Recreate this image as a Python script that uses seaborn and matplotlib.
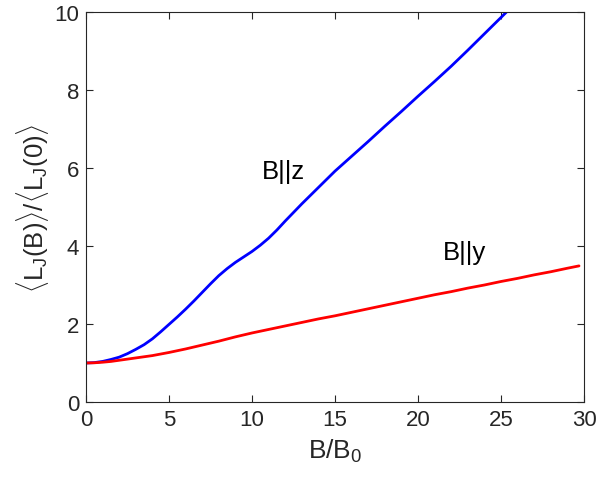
import matplotlib
matplotlib.use("Agg")
import matplotlib.pyplot as plt
import seaborn as sns
import pandas as pd

# B/B0 sample positions and read-off values
b_z = [0, 0.5, 1, 1.5, 2, 2.5, 3, 3.5, 4, 4.5, 5, 5.5, 6, 6.5, 7, 7.5, 8, 8.5,
       9, 9.5, 10, 10.5, 11, 11.5, 12, 12.5, 13, 13.5, 14, 15, 16, 17, 18, 19,
       20, 21, 22, 23, 24, 25, 26]
l_z = [1.00, 1.01, 1.04, 1.09, 1.15, 1.24, 1.35, 1.47, 1.62, 1.80, 1.99, 2.18,
       2.38, 2.59, 2.81, 3.03, 3.24, 3.42, 3.58, 3.72, 3.86, 4.02, 4.20, 4.41,
       4.64, 4.86, 5.08, 5.29, 5.50, 5.92, 6.30, 6.68, 7.07, 7.45, 7.84, 8.22,
       8.61, 9.02, 9.44, 9.86, 10.28]

b_y = [0, 0.5, 1, 1.5, 2, 2.5, 3, 3.5, 4, 4.5, 5, 6, 7, 8, 9, 10, 11, 12, 13,
       14, 15, 16, 17, 18, 19, 20, 21, 22, 23, 24, 25, 26, 27, 28, 29, 29.7]
l_y = [1.00, 1.005, 1.02, 1.04, 1.07, 1.10, 1.13, 1.16, 1.19, 1.23, 1.27, 1.36,
       1.46, 1.56, 1.67, 1.77, 1.86, 1.95, 2.04, 2.13, 2.21, 2.30, 2.39, 2.48,
       2.57, 2.66, 2.75, 2.83, 2.92, 3.00, 3.09, 3.17, 3.26, 3.34, 3.43, 3.49]

x_ticks = [0, 5, 10, 15, 20, 25, 30]
y_ticks = [0, 2, 4, 6, 8, 10]
labels = ["B||z", "B||y"]

sns.set_theme(style="ticks")
plt.rcParams['font.family'] = ['Liberation Sans', 'DejaVu Sans']
plt.rcParams['mathtext.fontset'] = 'custom'
plt.rcParams['mathtext.rm'] = 'Liberation Sans'
plt.rcParams['mathtext.it'] = 'Liberation Sans'
plt.rcParams['mathtext.sf'] = 'Liberation Sans'

df_z = pd.DataFrame({"B": b_z, "L": l_z})
df_y = pd.DataFrame({"B": b_y, "L": l_y})

fig = plt.figure(figsize=(5.96, 4.85), dpi=100)
ax = fig.add_axes([86/596, 82/485, (584-86)/596, (403-13)/485])

sns.lineplot(data=df_z, x="B", y="L", ax=ax, color=(0, 0, 1), linewidth=2.0,
             sort=False, estimator=None)
sns.lineplot(data=df_y, x="B", y="L", ax=ax, color=(1, 0, 0), linewidth=2.0,
             sort=False, estimator=None)

ax.set_xlim(0, 30)
ax.set_ylim(0, 10)
ax.set_xticks(x_ticks)
ax.set_yticks(y_ticks)
ax.set_xticklabels([str(t) for t in x_ticks])
ax.set_yticklabels([str(t) for t in y_ticks])

edge = '#262626'
for s in ax.spines.values():
    s.set_visible(True)
    s.set_color(edge)
    s.set_linewidth(0.8)
ax.tick_params(direction='in', length=5, width=0.8, color=edge,
               labelsize=16, labelcolor=edge, top=True, right=True, pad=5)

ax.set_xlabel(r"B/B$_{\rm 0}$", fontsize=19, color=edge, labelpad=5)
ax.set_ylabel(r"$\langle$L$_{\rm J}$(B)$\rangle$/$\langle$L$_{\rm J}$(0)$\rangle$",
              fontsize=18.5, color=edge, labelpad=2)

ax.text(11.9, 5.92, labels[0], fontsize=18.5, ha='center', va='center', color='black')
ax.text(22.8, 3.85, labels[1], fontsize=18.5, ha='center', va='center', color='black')

fig.savefig("out.png", dpi=100)
